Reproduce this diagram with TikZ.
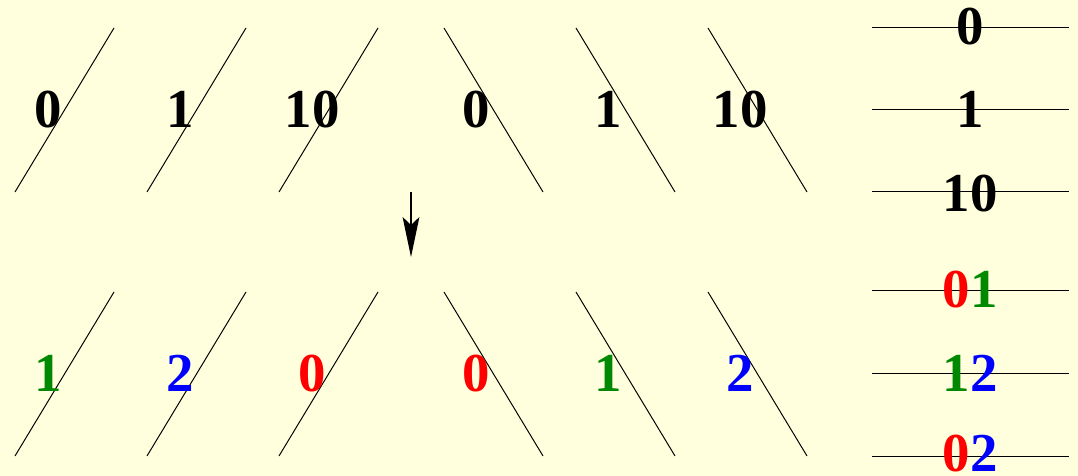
\documentclass[tikz,border=0pt]{standalone}
\usepackage{fontspec}
\setmainfont{Liberation Serif}
\usepackage{tikz}
\usetikzlibrary{
  arrows.meta
}
\definecolor{bgyellow}{RGB}{255,255,221}
\definecolor{digred}{RGB}{255,0,0}
\definecolor{diggreen}{RGB}{0,136,0}
\definecolor{digblue}{RGB}{0,0,255}

\begin{document}
\begin{tikzpicture}[
  >=Stealth,
  cut/.style={line width=0.7pt,black},
  digit/.style={inner sep=0pt,anchor=base,
    font=\bfseries\fontsize{39}{44}\selectfont}
]

\useasboundingbox (0,0) rectangle (26.95,11.9);
\fill[bgyellow] (0,0) rectangle (26.95,11.9);

%--------------------
% 上段
%--------------------
\begin{scope}
  % 右上がりの線
  \draw[cut] (0.375,7.1) -- ++(2.475,4.1);
  \draw[cut] (3.675,7.1) -- ++(2.475,4.1);
  \draw[cut] (6.975,7.1) -- ++(2.475,4.1);
  % 右下がりの線
  \draw[cut] (11.1,11.2) -- ++(2.475,-4.1);
  \draw[cut] (14.4,11.2) -- ++(2.475,-4.1);
  \draw[cut] (17.7,11.2) -- ++(2.475,-4.1);

  \node[digit] (t1) at (1.2,8.7) {0};
  \node[digit] (t2) at (4.5,8.7) {1};
  \node[digit] (t3) at (7.8,8.7) {10};
  \node[digit] (t4) at (11.9,8.7) {0};
  \node[digit] (t5) at (15.2,8.7) {1};
  \node[digit] (t6) at (18.5,8.7) {10};
\end{scope}

% 変換の矢印
\coordinate (from) at (10.275,7.1);
\coordinate (to) at (10.275,5.475);
\draw[->,line width=0.8pt,
  arrows={-Stealth[length=10mm,width=4.2mm,inset=2mm]}] (from) -- (to);

%--------------------
% 下段
%--------------------
\begin{scope}
  \draw[cut] (0.375,0.5) -- ++(2.475,4.1);
  \draw[cut] (3.675,0.5) -- ++(2.475,4.1);
  \draw[cut] (6.975,0.5) -- ++(2.475,4.1);
  \draw[cut] (11.1,4.6) -- ++(2.475,-4.1);
  \draw[cut] (14.4,4.6) -- ++(2.475,-4.1);
  \draw[cut] (17.7,4.6) -- ++(2.475,-4.1);

  \node[digit,diggreen] (b1) at (1.2,2.1) {1};
  \node[digit,digblue]  (b2) at (4.5,2.1) {2};
  \node[digit,digred]   (b3) at (7.8,2.1) {0};
  \node[digit,digred]   (b4) at (11.9,2.1) {0};
  \node[digit,diggreen] (b5) at (15.2,2.1) {1};
  \node[digit,digblue]  (b6) at (18.5,2.1) {2};
\end{scope}

%--------------------
% 右側の一覧
%--------------------
\begin{scope}
  \draw[cut] (21.8,11.2) -- (26.725,11.2);
  \draw[cut] (21.8,9.15) -- (26.725,9.15);
  \draw[cut] (21.8,7.1) -- (26.725,7.1);
  \draw[cut] (21.8,4.625) -- (26.725,4.625);
  \draw[cut] (21.8,2.55) -- (26.725,2.55);
  \draw[cut] (21.8,0.5) -- (26.725,0.5);

  \node[digit] (r1) at (24.25,10.775) {0};
  \node[digit] (r2) at (24.25,8.7) {1};
  \node[digit] (r3) at (24.25,6.6) {10};
  \node[digit] (r4) at (24.25,4.2)
    {\textcolor{digred}{0}\textcolor{diggreen}{1}};
  \node[digit] (r5) at (24.25,2.1)
    {\textcolor{diggreen}{1}\textcolor{digblue}{2}};
  \node[digit] (r6) at (24.25,0.1)
    {\textcolor{digred}{0}\textcolor{digblue}{2}};
\end{scope}

\end{tikzpicture}
\end{document}
